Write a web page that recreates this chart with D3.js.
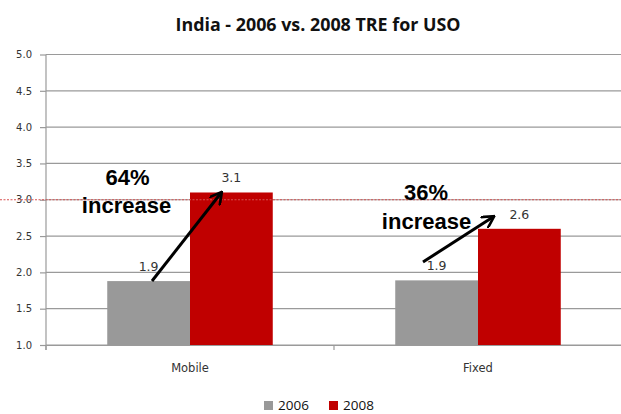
<!DOCTYPE html>
<html><head><meta charset="utf-8">
<script src="https://cdn.jsdelivr.net/npm/d3@7"></script>
<style>html,body{margin:0;padding:0;background:#fff;overflow:hidden}</style>
</head><body>
<svg id="c" width="621" height="414"></svg>
<script>
const categories = ["Mobile", "Fixed"];
const seriesNames = ["2006", "2008"];
const values2006 = [1.88, 1.89];
const values2008 = [3.1, 2.6];
const labels2006 = ["1.9", "1.9"];
const labels2008 = ["3.1", "2.6"];
const yTicks = [1.0, 1.5, 2.0, 2.5, 3.0, 3.5, 4.0, 4.5, 5.0];
const refValue = 3.0;
const increaseLabels = ["64%", "36%"];
const title = "India - 2006 vs. 2008 TRE for USO";
const colors = ["#999999", "#c00000"];

(function () {
const svg = d3.select("#c");
const pl = 46, pr = 622, pt = 54.5, pb = 345;
const x = d3.scaleBand().domain(categories).range([pl, pr]);
const xs = d3.scaleBand().domain(seriesNames).range([0, x.bandwidth()]).paddingOuter(0.74).paddingInner(0);
const y = d3.scaleLinear().domain([1, 5]).range([pb, pt]);

// title
svg.append("text").attr("x", 318).attr("y", 31).attr("text-anchor", "middle")
  .attr("font-family", "Open Sans").attr("font-weight", "bold").attr("font-size", 18)
  .attr("textLength", 285).attr("lengthAdjust", "spacingAndGlyphs")
  .attr("fill", "#111").text(title);

// gridlines
svg.append("g").selectAll("line").data(yTicks).join("line")
  .attr("x1", pl).attr("x2", pr).attr("y1", d => y(d)).attr("y2", d => y(d))
  .attr("stroke", "#9a9a9a").attr("stroke-width", 1.2);

// y axis
const yAxis = d3.axisLeft(y).tickValues(yTicks).tickFormat(d3.format(".1f")).tickSize(6).tickPadding(8);
const gy = svg.append("g").attr("transform", `translate(${pl},0)`).call(yAxis);
gy.select(".domain").attr("stroke", "#9a9a9a").attr("stroke-width", 1.2).attr("d", `M0,${pt}V${pb + 5}`);
gy.selectAll(".tick line").attr("stroke", "#9a9a9a").attr("stroke-width", 1.2);
gy.selectAll(".tick text").attr("font-family", "DejaVu Sans").attr("font-size", 10).attr("fill", "#333");

// x axis
const xAxis = d3.axisBottom(x).tickSize(0).tickPadding(19);
const gx = svg.append("g").attr("transform", `translate(0,${pb})`).call(xAxis);
gx.select(".domain").attr("stroke", "#9a9a9a").attr("stroke-width", 1.2);
gx.selectAll(".tick text").attr("font-family", "DejaVu Sans").attr("font-size", 11.5).attr("fill", "#333");
svg.append("g").selectAll("line").data([pl, pl + x.bandwidth(), pr]).join("line")
  .attr("x1", d => d).attr("x2", d => d).attr("y1", pb).attr("y2", pb + 5)
  .attr("stroke", "#9a9a9a").attr("stroke-width", 1.2);

// bars
const rows = categories.map((c, i) => ({c, vals: [values2006[i], values2008[i]], labs: [labels2006[i], labels2008[i]]}));
const g = svg.append("g");
rows.forEach((r, i) => {
  seriesNames.forEach((s, j) => {
    const bx = x(r.c) + xs(s);
    g.append("rect").attr("x", bx).attr("y", y(r.vals[j])).attr("width", xs.bandwidth())
      .attr("height", y(1) - y(r.vals[j])).attr("fill", colors[j]);
    g.append("text").attr("x", bx + xs.bandwidth() / 2).attr("y", y(r.vals[j]) - 10)
      .attr("text-anchor", "middle").attr("font-family", "DejaVu Sans").attr("font-size", 12.5)
      .attr("fill", "#333").text(r.labs[j]);
  });
});

// reference dashed line
svg.append("line").attr("x1", 0).attr("x2", 621).attr("y1", y(refValue)).attr("y2", y(refValue))
  .attr("stroke", "#d85050").attr("stroke-width", 1.2).attr("stroke-dasharray", "2,1.5");

// annotations
svg.append("defs").append("marker").attr("id", "ah").attr("viewBox", "0 0 10 10")
  .attr("refX", 8).attr("refY", 5).attr("markerWidth", 4.5).attr("markerHeight", 4.5).attr("orient", "auto")
  .append("path").attr("d", "M0,0 L9,5 L0,10").attr("fill", "none").attr("stroke", "#000").attr("stroke-width", 2);

const ann = [
  {pctX: 127.5, pctY: 185, incX: 126.5, incY: 213, from: [152, 281], to: [221, 193]},
  {pctX: 426, pctY: 200, incX: 426.5, incY: 229, from: [423, 262], to: [493, 217]}
];
ann.forEach((a, i) => {
  svg.append("text").attr("x", a.pctX).attr("y", a.pctY).attr("text-anchor", "middle")
    .attr("font-family", "Liberation Sans").attr("font-weight", "bold").attr("font-size", 22)
    .attr("fill", "#000").text(increaseLabels[i]);
  svg.append("text").attr("x", a.incX).attr("y", a.incY).attr("text-anchor", "middle")
    .attr("font-family", "Liberation Sans").attr("font-weight", "bold").attr("font-size", 22)
    .attr("fill", "#000").text("increase");
  svg.append("line").attr("x1", a.from[0]).attr("y1", a.from[1]).attr("x2", a.to[0]).attr("y2", a.to[1])
    .attr("stroke", "#000").attr("stroke-width", 3).attr("marker-end", "url(#ah)");
});

// legend
const lg = svg.append("g");
const lx = [264, 329];
seriesNames.forEach((s, j) => {
  lg.append("rect").attr("x", lx[j]).attr("y", 401).attr("width", 9).attr("height", 9).attr("fill", colors[j]);
  lg.append("text").attr("x", lx[j] + 14).attr("y", 410).attr("font-family", "Open Sans")
    .attr("font-size", 13.5).attr("fill", "#111").text(s);
});
})();
</script>
</body></html>
